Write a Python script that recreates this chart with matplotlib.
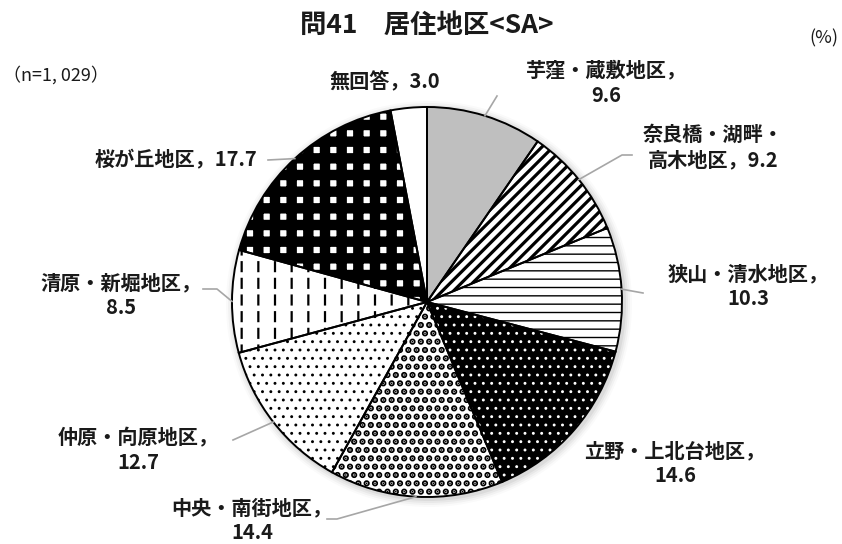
import math
import matplotlib.pyplot as plt

plt.rcParams['font.family'] = ['Noto Sans CJK JP', 'DejaVu Sans']

# 居住地区の回答割合（%）
districts = ['芋窪・蔵敷地区', '奈良橋・湖畔・高木地区', '狭山・清水地区', '立野・上北台地区',
             '中央・南街地区', '仲原・向原地区', '清原・新堀地区', '桜が丘地区', '無回答']
shares = [9.6, 9.2, 10.3, 14.6, 14.4, 12.7, 8.5, 17.7, 3.0]
label_text = ['芋窪・蔵敷地区，\n{}', '奈良橋・湖畔・\n高木地区，{}', '狭山・清水地区，\n{}',
              '立野・上北台地区，\n{}', '中央・南街地区，\n{}', '仲原・向原地区，\n{}',
              '清原・新堀地区，\n{}', '桜が丘地区，{}', '無回答，{}']

W, H = 842, 544
CX, CY, R = 427, 302, 195

# face colour, hatch, hatch colour, hatch width for each slice
fills = [
    ('#bfbfbf', '', 'black', 1.0),
    ('white', '///', 'black', 2.3),
    ('white', '--', 'black', 1.0),
    ('black', '..', 'white', 0.9),
    ('white', '..', 'black', 3.2),
    ('white', '..', 'black', 0.9),
    ('white', '|', 'black', 1.6),
    ('white', '+', 'black', 7.5),
    ('white', '', 'black', 1.0),
]

# label centre (x, y in pixels from top-left) and leader path toward the slice
label_pos = [(606, 83), (713, 147), (748, 286), (675, 463), (252, 520),
             (138, 450), (121, 295), (176, 160), (385, 82)]
leaders = [[(497, 96)], [(632, 155), (622, 155)], [(643, 293)], None,
           [(327, 519), (337, 519)], [(233, 440)], [(203, 289), (217, 289)],
           [(268, 160)], None]


def fy(y):
    return H - y


fig = plt.figure(figsize=(W / 100, H / 100), dpi=100)
ax = fig.add_axes([0, 0, 1, 1])

kw = dict(startangle=90, counterclock=False, radius=R, center=(CX, fy(CY)))

# soft shadow round the pie
for i, a in enumerate([0.05, 0.04, 0.03, 0.02]):
    ax.add_patch(plt.Circle((CX + 2, fy(CY) - 2), R + 2 + 2 * i, color='black',
                            alpha=a, lw=0, zorder=0))
ax.add_patch(plt.Circle((CX, fy(CY)), R, color='white', lw=0, zorder=0.5))

wedges, _ = ax.pie(shares, colors=[f[0] for f in fills],
                   wedgeprops=dict(linewidth=0), **kw)
for w, (fc, hatch, hc, hlw) in zip(wedges, fills):
    w.set_edgecolor(hc)
    w.set_linewidth(0)
    if hatch:
        w.set_hatch(hatch)
        w.set_hatch_linewidth(hlw)

# break the vertical lines of 清原・新堀地区 into dashes
over, _ = ax.pie(shares, colors=['none'] * len(shares),
                 wedgeprops=dict(linewidth=0), **kw)
for i, w in enumerate(over):
    if i == 6:
        w.set_edgecolor('white')
        w.set_hatch('-')
        w.set_hatch_linewidth(4.0)
    else:
        w.set_visible(False)

ax.pie(shares, colors=['none'] * len(shares),
       wedgeprops=dict(linewidth=1.4, edgecolor='black'), **kw)

# labels and leader lines
for i, (txt, v) in enumerate(zip(label_text, shares)):
    x, y = label_pos[i]
    ax.text(x, fy(y), txt.format(v), ha='center', va='center', fontsize=14.5,
            fontweight='bold', color='#1a1a1a', linespacing=1.25)
    if leaders[i]:
        mid = sum(shares[:i]) + v / 2
        th = math.radians(90 - mid * 3.6)
        px, py = CX + R * math.cos(th), CY - R * math.sin(th)
        pts = leaders[i] + [(px, py)]
        ax.plot([p[0] for p in pts], [fy(p[1]) for p in pts], color='#a6a6a6',
                lw=1.2, zorder=5)

ax.text(CX, fy(25), '問41　居住地区<SA>', ha='center', va='center',
        fontsize=19, fontweight='bold', color='#1a1a1a')
ax.text(3, fy(75), '（n=1, 029）', ha='left', va='center', fontsize=13, color='#1a1a1a')
ax.text(838, fy(38), '(%)', ha='right', va='center', fontsize=13, color='#1a1a1a')

ax.set_xlim(0, W)
ax.set_ylim(0, H)
ax.set_aspect('equal')
ax.axis('off')

fig.savefig('out.png', dpi=100)
